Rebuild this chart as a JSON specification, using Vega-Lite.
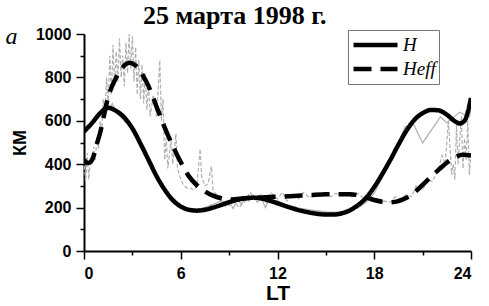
{
  "$schema": "https://vega.github.io/schema/vega-lite/v6.json",
  "width": 387,
  "height": 217,
  "autosize": {"type": "none"},
  "padding": {"left": 84, "top": 34, "right": 18, "bottom": 55},
  "background": "white",
  "title": {
    "text": "25 марта 1998 г.",
    "anchor": "start",
    "frame": "group",
    "dx": 59,
    "offset": -25,
    "baseline": "alphabetic",
    "font": "Liberation Serif",
    "fontSize": 26,
    "fontWeight": "bold",
    "color": "black"
  },
  "config": {
    "view": {"stroke": null},
    "axis": {
      "grid": false,
      "domainColor": "black",
      "domainWidth": 2,
      "tickColor": "black",
      "tickWidth": 1.5,
      "labelFont": "Liberation Sans",
      "labelFontWeight": "bold",
      "labelFontSize": 16,
      "labelColor": "black",
      "titleFont": "Liberation Sans",
      "titleFontWeight": "bold",
      "titleColor": "black"
    }
  },
  "datasets": {
    "thick": [
      {"t": 0, "v": 550, "s": "H"}, {"t": 0.5, "v": 590, "s": "H"}, {"t": 1, "v": 635, "s": "H"}, {"t": 1.5, "v": 660, "s": "H"}, {"t": 2, "v": 645, "s": "H"}, {"t": 2.5, "v": 615, "s": "H"}, {"t": 3, "v": 565, "s": "H"}, {"t": 3.5, "v": 495, "s": "H"}, {"t": 4, "v": 420, "s": "H"}, {"t": 4.5, "v": 345, "s": "H"}, {"t": 5, "v": 283, "s": "H"}, {"t": 5.5, "v": 235, "s": "H"}, {"t": 6, "v": 205, "s": "H"}, {"t": 6.5, "v": 190, "s": "H"}, {"t": 7, "v": 186, "s": "H"}, {"t": 7.5, "v": 190, "s": "H"}, {"t": 8, "v": 200, "s": "H"}, {"t": 8.5, "v": 212, "s": "H"}, {"t": 9, "v": 225, "s": "H"}, {"t": 9.5, "v": 236, "s": "H"}, {"t": 10, "v": 243, "s": "H"}, {"t": 10.5, "v": 246, "s": "H"}, {"t": 11, "v": 242, "s": "H"}, {"t": 11.5, "v": 232, "s": "H"}, {"t": 12, "v": 220, "s": "H"}, {"t": 12.5, "v": 207, "s": "H"}, {"t": 13, "v": 195, "s": "H"}, {"t": 13.5, "v": 185, "s": "H"}, {"t": 14, "v": 177, "s": "H"}, {"t": 14.5, "v": 171, "s": "H"}, {"t": 15, "v": 168, "s": "H"}, {"t": 15.5, "v": 168, "s": "H"}, {"t": 16, "v": 174, "s": "H"}, {"t": 16.5, "v": 188, "s": "H"}, {"t": 17, "v": 212, "s": "H"}, {"t": 17.5, "v": 245, "s": "H"}, {"t": 18, "v": 295, "s": "H"}, {"t": 18.5, "v": 355, "s": "H"}, {"t": 19, "v": 420, "s": "H"}, {"t": 19.5, "v": 490, "s": "H"}, {"t": 20, "v": 555, "s": "H"}, {"t": 20.5, "v": 605, "s": "H"}, {"t": 21, "v": 635, "s": "H"}, {"t": 21.5, "v": 650, "s": "H"}, {"t": 22, "v": 648, "s": "H"}, {"t": 22.5, "v": 628, "s": "H"}, {"t": 23, "v": 598, "s": "H"}, {"t": 23.3, "v": 588, "s": "H"}, {"t": 23.6, "v": 600, "s": "H"}, {"t": 23.8, "v": 640, "s": "H"}, {"t": 24, "v": 705, "s": "H"},
      {"t": 0, "v": 420, "s": "Heff"}, {"t": 0.25, "v": 405, "s": "Heff"}, {"t": 0.5, "v": 420, "s": "Heff"}, {"t": 0.8, "v": 495, "s": "Heff"}, {"t": 1, "v": 545, "s": "Heff"}, {"t": 1.5, "v": 710, "s": "Heff"}, {"t": 2, "v": 800, "s": "Heff"}, {"t": 2.5, "v": 855, "s": "Heff"}, {"t": 2.8, "v": 868, "s": "Heff"}, {"t": 3.2, "v": 855, "s": "Heff"}, {"t": 3.6, "v": 815, "s": "Heff"}, {"t": 4, "v": 760, "s": "Heff"}, {"t": 4.5, "v": 665, "s": "Heff"}, {"t": 5, "v": 570, "s": "Heff"}, {"t": 5.5, "v": 485, "s": "Heff"}, {"t": 6, "v": 410, "s": "Heff"}, {"t": 6.5, "v": 345, "s": "Heff"}, {"t": 7, "v": 303, "s": "Heff"}, {"t": 7.5, "v": 275, "s": "Heff"}, {"t": 8, "v": 255, "s": "Heff"}, {"t": 8.5, "v": 243, "s": "Heff"}, {"t": 9, "v": 237, "s": "Heff"}, {"t": 9.5, "v": 240, "s": "Heff"}, {"t": 10, "v": 243, "s": "Heff"}, {"t": 11, "v": 247, "s": "Heff"}, {"t": 12, "v": 250, "s": "Heff"}, {"t": 13, "v": 254, "s": "Heff"}, {"t": 14, "v": 258, "s": "Heff"}, {"t": 15, "v": 262, "s": "Heff"}, {"t": 16, "v": 262, "s": "Heff"}, {"t": 16.5, "v": 262, "s": "Heff"}, {"t": 17, "v": 257, "s": "Heff"}, {"t": 17.5, "v": 247, "s": "Heff"}, {"t": 18, "v": 235, "s": "Heff"}, {"t": 18.5, "v": 227, "s": "Heff"}, {"t": 19, "v": 225, "s": "Heff"}, {"t": 19.5, "v": 230, "s": "Heff"}, {"t": 20, "v": 245, "s": "Heff"}, {"t": 20.5, "v": 270, "s": "Heff"}, {"t": 21, "v": 305, "s": "Heff"}, {"t": 21.5, "v": 340, "s": "Heff"}, {"t": 22, "v": 375, "s": "Heff"}, {"t": 22.5, "v": 407, "s": "Heff"}, {"t": 23, "v": 432, "s": "Heff"}, {"t": 23.5, "v": 444, "s": "Heff"}, {"t": 24, "v": 440, "s": "Heff"}
    ],
    "rawH": [
      {"t": 0, "v": 560}, {"t": 0.5, "v": 580}, {"t": 1, "v": 640}, {"t": 1.25, "v": 670}, {"t": 1.5, "v": 650}, {"t": 1.75, "v": 680}, {"t": 2, "v": 640}, {"t": 2.5, "v": 600}, {"t": 3, "v": 560}, {"t": 3.5, "v": 500}, {"t": 4, "v": 425}, {"t": 4.5, "v": 345}, {"t": 5, "v": 280}, {"t": 5.5, "v": 240}, {"t": 6, "v": 210}, {"t": 6.5, "v": 195}, {"t": 7, "v": 192}, {"t": 7.5, "v": 200}, {"t": 8, "v": 215}, {"t": 8.5, "v": 230}, {"t": 8.75, "v": 205}, {"t": 9, "v": 230}, {"t": 9.25, "v": 195}, {"t": 9.5, "v": 240}, {"t": 9.75, "v": 215}, {"t": 10, "v": 250}, {"t": 10.25, "v": 230}, {"t": 10.5, "v": 255}, {"t": 10.75, "v": 225}, {"t": 11, "v": 245}, {"t": 11.25, "v": 200}, {"t": 11.5, "v": 240}, {"t": 12, "v": 230}, {"t": 12.5, "v": 215}, {"t": 13, "v": 205}, {"t": 13.5, "v": 195}, {"t": 14, "v": 190}, {"t": 14.5, "v": 185}, {"t": 15, "v": 180}, {"t": 15.5, "v": 178}, {"t": 16, "v": 180}, {"t": 16.5, "v": 185}, {"t": 17, "v": 200}, {"t": 17.5, "v": 225}, {"t": 18, "v": 265}, {"t": 18.5, "v": 340}, {"t": 19.2, "v": 433}, {"t": 19.9, "v": 571}, {"t": 20.4, "v": 590}, {"t": 21, "v": 498}, {"t": 22.1, "v": 618}, {"t": 22.5, "v": 590}, {"t": 23.3, "v": 640}, {"t": 23.9, "v": 618}, {"t": 24, "v": 650}
    ],
    "rawEff": [
      {"t": 0, "v": 420}, {"t": 0.1, "v": 320}, {"t": 0.2, "v": 450}, {"t": 0.3, "v": 330}, {"t": 0.4, "v": 430}, {"t": 0.5, "v": 400}, {"t": 0.6, "v": 480}, {"t": 0.7, "v": 420}, {"t": 0.8, "v": 520}, {"t": 0.9, "v": 470}, {"t": 1, "v": 600}, {"t": 1.1, "v": 540}, {"t": 1.2, "v": 700}, {"t": 1.3, "v": 620}, {"t": 1.4, "v": 800}, {"t": 1.5, "v": 680}, {"t": 1.6, "v": 900}, {"t": 1.7, "v": 720}, {"t": 1.8, "v": 950}, {"t": 1.9, "v": 760}, {"t": 2, "v": 920}, {"t": 2.1, "v": 780}, {"t": 2.2, "v": 980}, {"t": 2.3, "v": 800}, {"t": 2.4, "v": 900}, {"t": 2.5, "v": 760}, {"t": 2.6, "v": 960}, {"t": 2.7, "v": 820}, {"t": 2.8, "v": 1000}, {"t": 2.9, "v": 840}, {"t": 3, "v": 990}, {"t": 3.1, "v": 780}, {"t": 3.2, "v": 940}, {"t": 3.3, "v": 720}, {"t": 3.4, "v": 880}, {"t": 3.5, "v": 700}, {"t": 3.6, "v": 860}, {"t": 3.7, "v": 680}, {"t": 3.8, "v": 820}, {"t": 3.9, "v": 650}, {"t": 4, "v": 780}, {"t": 4.1, "v": 620}, {"t": 4.3, "v": 720}, {"t": 4.5, "v": 620}, {"t": 4.7, "v": 880}, {"t": 4.8, "v": 600}, {"t": 4.9, "v": 700}, {"t": 5, "v": 420}, {"t": 5.1, "v": 520}, {"t": 5.2, "v": 380}, {"t": 5.4, "v": 520}, {"t": 5.5, "v": 400}, {"t": 5.7, "v": 540}, {"t": 5.8, "v": 380}, {"t": 6, "v": 330}, {"t": 6.2, "v": 300}, {"t": 6.4, "v": 290}, {"t": 6.6, "v": 290}, {"t": 6.8, "v": 280}, {"t": 7, "v": 300}, {"t": 7.2, "v": 470}, {"t": 7.3, "v": 340}, {"t": 7.5, "v": 300}, {"t": 7.7, "v": 310}, {"t": 7.9, "v": 390}, {"t": 8, "v": 280}, {"t": 8.3, "v": 250}, {"t": 8.6, "v": 230}, {"t": 9, "v": 210}, {"t": 9.3, "v": 230}, {"t": 9.6, "v": 200}, {"t": 10, "v": 230}, {"t": 10.3, "v": 270}, {"t": 10.6, "v": 240}, {"t": 11, "v": 260}, {"t": 11.3, "v": 225}, {"t": 11.6, "v": 270}, {"t": 12, "v": 240}, {"t": 12.3, "v": 270}, {"t": 12.6, "v": 230}, {"t": 13, "v": 260}, {"t": 13.3, "v": 240}, {"t": 13.6, "v": 270}, {"t": 14, "v": 245}, {"t": 14.3, "v": 265}, {"t": 14.6, "v": 250}, {"t": 15, "v": 270}, {"t": 15.3, "v": 250}, {"t": 15.6, "v": 265}, {"t": 16, "v": 255}, {"t": 16.3, "v": 265}, {"t": 16.6, "v": 250}, {"t": 17, "v": 265}, {"t": 17.3, "v": 245}, {"t": 17.6, "v": 240}, {"t": 18, "v": 230}, {"t": 18.3, "v": 225}, {"t": 18.6, "v": 230}, {"t": 19, "v": 225}, {"t": 19.3, "v": 250}, {"t": 19.6, "v": 240}, {"t": 20, "v": 260}, {"t": 20.3, "v": 250}, {"t": 20.6, "v": 300}, {"t": 21, "v": 280}, {"t": 21.3, "v": 330}, {"t": 21.6, "v": 320}, {"t": 22, "v": 380}, {"t": 22.2, "v": 440}, {"t": 22.4, "v": 400}, {"t": 22.6, "v": 600}, {"t": 22.8, "v": 350}, {"t": 22.9, "v": 400}, {"t": 23, "v": 330}, {"t": 23.1, "v": 580}, {"t": 23.2, "v": 400}, {"t": 23.4, "v": 620}, {"t": 23.5, "v": 380}, {"t": 23.6, "v": 520}, {"t": 23.7, "v": 420}, {"t": 23.8, "v": 600}, {"t": 23.9, "v": 350}, {"t": 24, "v": 450}
    ],
    "panel": [{"t": -4.5, "v": 986, "label": "а"}]
  },
  "resolve": {"axis": {"x": "independent", "y": "independent"}},
  "layer": [
    {
      "data": {"name": "rawH"},
      "mark": {"type": "line", "color": "#b0b0b0", "strokeWidth": 1.2, "clip": true},
      "encoding": {
        "x": {"field": "t", "type": "quantitative", "scale": {"domain": [0, 24], "nice": false},
              "axis": {"orient": "bottom", "values": [3, 9, 15, 21], "labels": false, "domain": false, "tickSize": 4, "title": null}},
        "y": {"field": "v", "type": "quantitative", "scale": {"domain": [0, 1000], "nice": false},
              "axis": {"orient": "left", "values": [100, 300, 500, 700, 900], "labels": false, "domain": false, "tickSize": 4, "title": null}}
      }
    },
    {
      "data": {"name": "rawEff"},
      "mark": {"type": "line", "color": "#b0b0b0", "strokeWidth": 1.2, "strokeDash": [4, 2], "clip": true},
      "encoding": {
        "x": {"field": "t", "type": "quantitative", "scale": {"domain": [0, 24], "nice": false}, "axis": null},
        "y": {"field": "v", "type": "quantitative", "scale": {"domain": [0, 1000], "nice": false}, "axis": null}
      }
    },
    {
      "data": {"name": "thick"},
      "mark": {"type": "line", "color": "black", "strokeWidth": 4.5, "interpolate": "monotone", "clip": true},
      "encoding": {
        "x": {"field": "t", "type": "quantitative", "scale": {"domain": [0, 24], "nice": false},
              "axis": {"orient": "bottom", "values": [0, 6, 12, 18, 24], "tickSize": 8, "labelPadding": 6, "title": "LT", "titleFontSize": 21, "titlePadding": 1}},
        "y": {"field": "v", "type": "quantitative", "scale": {"domain": [0, 1000], "nice": false},
              "axis": {"orient": "left", "values": [0, 200, 400, 600, 800, 1000], "format": "d", "tickSize": 8, "labelPadding": 5, "title": "КМ", "titleFontSize": 18, "titlePadding": 6}},
        "strokeDash": {
          "field": "s", "type": "nominal",
          "scale": {"domain": ["H", "Heff"], "range": [[1, 0], [18, 9]]},
          "legend": {
            "orient": "none", "legendX": 264, "legendY": -4,
            "title": null,
            "strokeColor": "#777", "padding": 3,
            "symbolType": "stroke", "symbolSize": 1936, "symbolStrokeWidth": 4.5, "symbolStrokeColor": "black",
            "clipHeight": 24, "rowPadding": 0,
            "labelFont": "Liberation Serif", "labelFontStyle": "italic", "labelFontSize": 19, "labelColor": "black", "labelOffset": 3
          }
        }
      }
    },
    {
      "data": {"name": "panel"},
      "mark": {"type": "text", "font": "Liberation Serif", "fontStyle": "italic", "fontSize": 24, "color": "black", "align": "center", "baseline": "middle"},
      "encoding": {
        "x": {"field": "t", "type": "quantitative", "scale": {"domain": [0, 24], "nice": false}, "axis": null},
        "y": {"field": "v", "type": "quantitative", "scale": {"domain": [0, 1000], "nice": false}, "axis": null},
        "text": {"field": "label"}
      }
    }
  ]
}
